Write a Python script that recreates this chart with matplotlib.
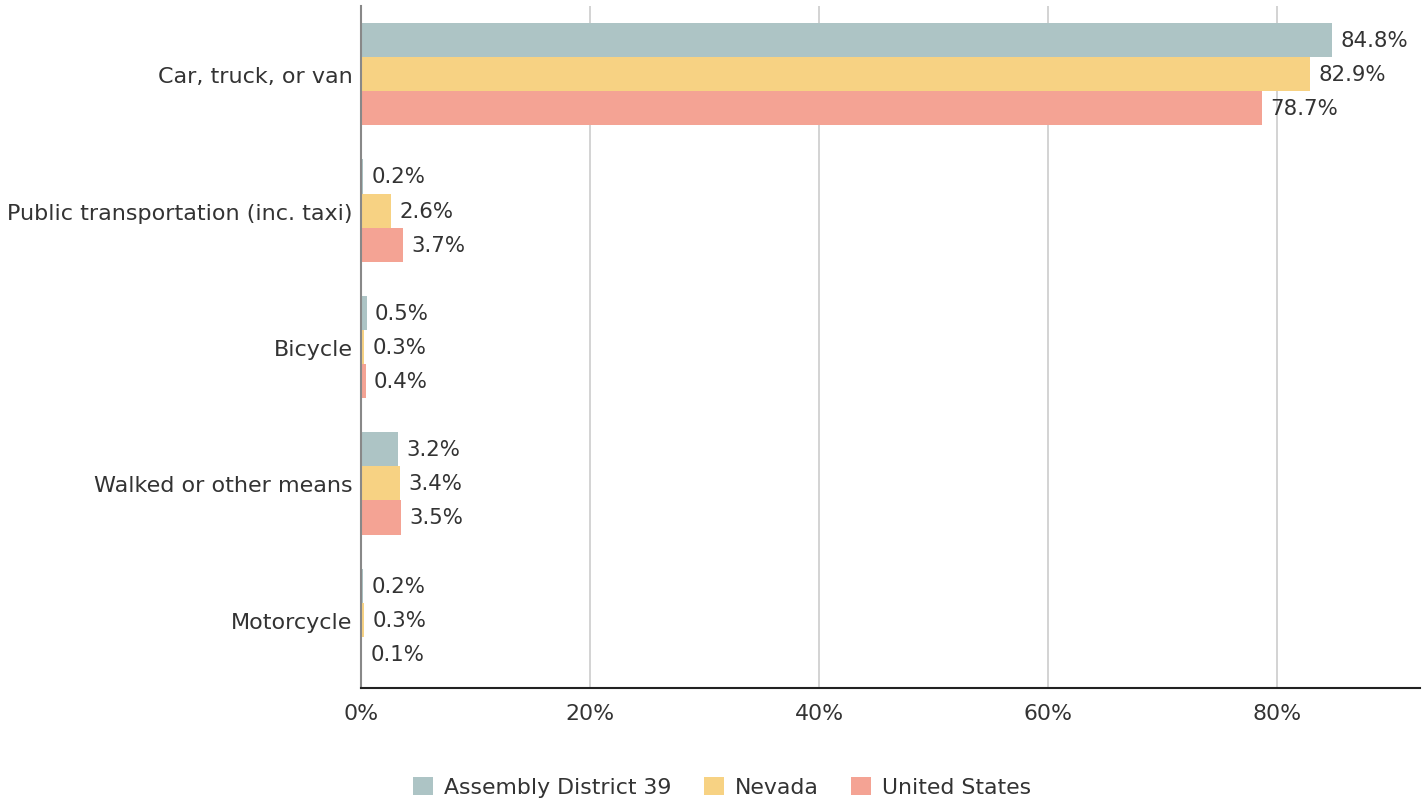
import matplotlib.pyplot as plt
import numpy as np

plt.rcParams["font.family"] = ["DejaVu Sans"]

categories = ["Car, truck, or van", "Public transportation (inc. taxi)", "Bicycle",
              "Walked or other means", "Motorcycle"]
series_names = ["Assembly District 39", "Nevada", "United States"]
district = [84.8, 0.2, 0.5, 3.2, 0.2]
nevada = [82.9, 2.6, 0.3, 3.4, 0.3]
usa = [78.7, 3.7, 0.4, 3.5, 0.1]
colors = ["#adc4c5", "#f7d283", "#f4a394"]
xticks = [0, 20, 40, 60, 80]

fig = plt.figure(figsize=(14.26, 8.04), dpi=100)
ax = fig.add_axes([361 / 1426, 1 - 689 / 804, 1059 / 1426, 682 / 804])

y = np.arange(len(categories))
bar_h = 0.25
for i, (vals, name, c) in enumerate(zip([district, nevada, usa], series_names, colors)):
    pos = y + (i - 1) * bar_h
    ax.barh(pos, vals, height=bar_h, color=c, label=name, zorder=2)
    for p, v in zip(pos, vals):
        ax.annotate(f"{v:.1f}%", (v, p), xytext=(6, 0), textcoords="offset points",
                    va="center", ha="left", fontsize=15.3, color="#333333")

ax.set_ylim(len(categories) - 0.5, -0.5)
ax.set_xlim(0, 92.5)
ax.set_yticks(y)
ax.set_yticklabels(categories, fontsize=16, color="#333333")
ax.set_xticks(xticks)
ax.set_xticklabels([f"{t}%" for t in xticks], fontsize=15.8, color="#333333")
ax.tick_params(axis="y", length=0, pad=6)
ax.tick_params(axis="x", length=0, pad=11)
ax.grid(True, axis="x", color="#cccccc", lw=1.2, zorder=0)
for s in ["top", "right"]:
    ax.spines[s].set_visible(False)
ax.spines["left"].set_color("#888888")
ax.spines["left"].set_linewidth(1.5)
ax.spines["bottom"].set_color("#222222")
ax.spines["bottom"].set_linewidth(1.5)

ax.legend(loc="center", bbox_to_anchor=(722 / 1426, 1 - 788 / 804), bbox_transform=fig.transFigure,
          ncol=3, frameon=False, fontsize=15.8, handlelength=0.9, handleheight=0.9,
          columnspacing=1.5, handletextpad=0.5, labelcolor="#333333")

fig.savefig("out.png", dpi=100)
